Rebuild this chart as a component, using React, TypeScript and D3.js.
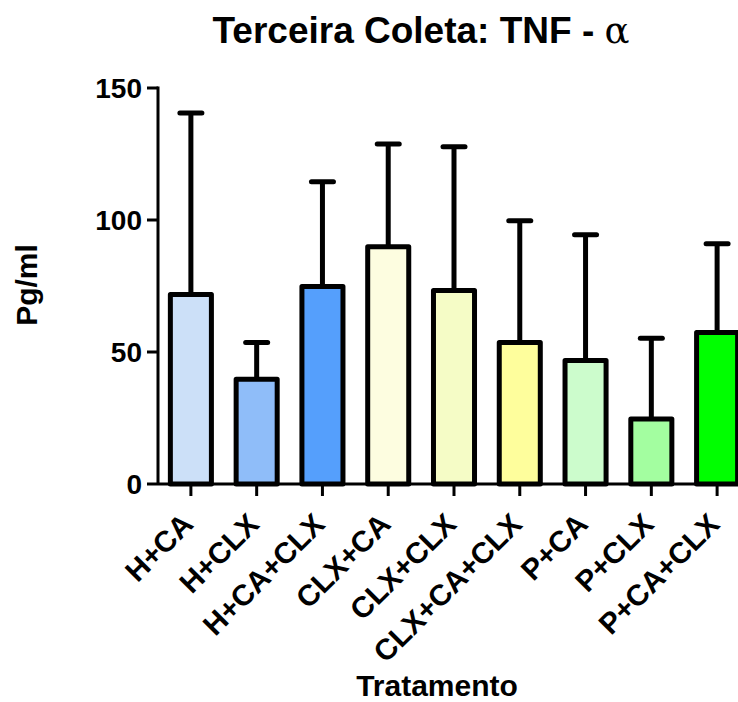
import React, { useEffect, useRef } from 'react';
import * as d3 from 'd3';

const categories = ['H+CA', 'H+CLX', 'H+CA+CLX', 'CLX+CA', 'CLX+CLX', 'CLX+CA+CLX', 'P+CA', 'P+CLX', 'P+CA+CLX'];
const means = [71.8, 39.7, 74.8, 89.9, 73.3, 53.6, 46.8, 24.6, 57.4];
const upperErr = [140.5, 53.6, 114.5, 128.8, 127.7, 99.7, 94.4, 55.2, 91.0];
const colors = ['#cce0f8', '#8fbdf9', '#559ffc', '#fdfde0', '#f5fcc6', '#fefe9c', '#ccfccc', '#a3fea0', '#00ff00'];
const yTicks = [0, 50, 100, 150];

function App() {
  const ref = useRef<SVGSVGElement>(null);

  useEffect(() => {
    const svg = d3.select(ref.current);
    svg.selectAll('*').remove();
    const font = '"Liberation Sans", Arial, sans-serif';

    const x = d3.scaleBand()
      .domain(categories)
      .range([158, 750])
      .paddingInner(0.3)
      .paddingOuter(0.15);

    const y = d3.scaleLinear().domain([0, 150]).range([484, 88]);

    const data = categories.map((c, i) => ({ c, m: means[i], e: upperErr[i], col: colors[i] }));
    const cx = (c: string) => x(c)! + x.bandwidth() / 2;

    // error bars first, bars drawn over them
    const err = svg.append('g');
    err.selectAll('line.v')
      .data(data)
      .enter()
      .append('line')
      .attr('x1', d => cx(d.c))
      .attr('x2', d => cx(d.c))
      .attr('y1', d => y(d.m))
      .attr('y2', d => y(d.e))
      .attr('stroke', '#000')
      .attr('stroke-width', 5);
    err.selectAll('line.cap')
      .data(data)
      .enter()
      .append('line')
      .attr('x1', d => cx(d.c) - 11)
      .attr('x2', d => cx(d.c) + 11)
      .attr('y1', d => y(d.e))
      .attr('y2', d => y(d.e))
      .attr('stroke', '#000')
      .attr('stroke-width', 5)
      .attr('stroke-linecap', 'round');

    svg.append('g')
      .selectAll('rect')
      .data(data)
      .enter()
      .append('rect')
      .attr('x', d => x(d.c)! + 2.5)
      .attr('y', d => y(d.m))
      .attr('width', x.bandwidth() - 5)
      .attr('height', d => y(0) - y(d.m))
      .attr('fill', d => d.col)
      .attr('stroke', '#000')
      .attr('stroke-width', 5)
      .attr('stroke-linejoin', 'round');

    // y axis
    const ya = svg.append('g');
    ya.append('line')
      .attr('x1', 158).attr('x2', 158)
      .attr('y1', y(150) - 1.5).attr('y2', y(0))
      .attr('stroke', '#000').attr('stroke-width', 3);
    ya.selectAll('line.t')
      .data(yTicks)
      .enter()
      .append('line')
      .attr('x1', 147).attr('x2', 158)
      .attr('y1', d => y(d)).attr('y2', d => y(d))
      .attr('stroke', '#000').attr('stroke-width', 3);
    ya.selectAll('text')
      .data(yTicks)
      .enter()
      .append('text')
      .attr('x', 142)
      .attr('y', d => y(d))
      .attr('dy', '0.36em')
      .attr('text-anchor', 'end')
      .attr('font-family', font)
      .attr('font-weight', 'bold')
      .attr('font-size', 28)
      .text(d => d);

    // x axis
    const xa = svg.append('g');
    xa.append('line')
      .attr('x1', 158).attr('x2', 750)
      .attr('y1', y(0)).attr('y2', y(0))
      .attr('stroke', '#000').attr('stroke-width', 3);
    xa.selectAll('line.t')
      .data(categories)
      .enter()
      .append('line')
      .attr('x1', d => cx(d))
      .attr('x2', d => cx(d))
      .attr('y1', y(0)).attr('y2', y(0) + 12)
      .attr('stroke', '#000').attr('stroke-width', 3);
    xa.selectAll('text')
      .data(categories)
      .enter()
      .append('text')
      .attr('transform', d => `translate(${cx(d) + 4},${y(0) + 42}) rotate(-45)`)
      .attr('text-anchor', 'end')
      .attr('font-family', font)
      .attr('font-weight', 'bold')
      .attr('font-size', 29.5)
      .text(d => d);

    const title = svg.append('text')
      .attr('x', 421).attr('y', 43)
      .attr('text-anchor', 'middle')
      .attr('font-family', font)
      .attr('font-weight', 'bold')
      .attr('font-size', 37);
    title.append('tspan').text('Terceira Coleta: TNF - ');
    title.append('tspan')
      .attr('font-family', '"DejaVu Serif", "Liberation Serif", serif')
      .attr('font-weight', 'normal')
      .text('α');

    svg.append('text')
      .attr('x', 437).attr('y', 696)
      .attr('text-anchor', 'middle')
      .attr('font-family', font)
      .attr('font-weight', 'bold')
      .attr('font-size', 30)
      .text('Tratamento');

    svg.append('text')
      .attr('transform', 'translate(37,285) rotate(-90)')
      .attr('text-anchor', 'middle')
      .attr('font-family', font)
      .attr('font-weight', 'bold')
      .attr('font-size', 30)
      .text('Pg/ml');
  }, []);

  return (
    <svg ref={ref} width={738} height={702} style={{ position: 'absolute', left: 0, top: 0, background: '#fff' }} />
  );
}

export default App;
